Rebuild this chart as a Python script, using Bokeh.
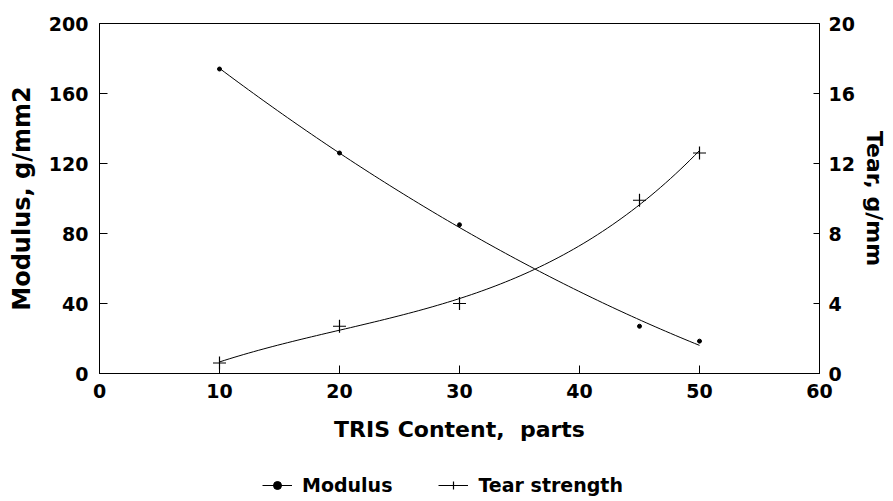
import numpy as np
from bokeh.plotting import figure
from bokeh.layouts import column
from bokeh.models import Range1d, LinearAxis, FixedTicker, Legend, LegendItem
from bokeh.embed import file_html
from bokeh.resources import INLINE

# data
tris = [10, 20, 30, 45, 50]
modulus = [174, 126, 85, 27, 18.5]
tear = [0.6, 2.7, 4.0, 9.9, 12.6]

x_ticks = [0, 10, 20, 30, 40, 50, 60]
left_ticks = [0, 40, 80, 120, 160, 200]
right_ticks = [0, 4, 8, 12, 16, 20]

FONT = "DejaVu Sans"

p = figure(frame_width=720, frame_height=350,
           x_range=Range1d(0, 60), y_range=Range1d(0, 200),
           output_backend="svg", toolbar_location=None,
           min_border_left=99, min_border_right=74, min_border_top=23,
           min_border_bottom=0)
p.extra_y_ranges = {"tear": Range1d(0, 20)}
p.grid.visible = False
p.outline_line_color = "black"
p.outline_line_width = 1
p.background_fill_color = "white"
p.border_fill_color = "white"

def style_axis(ax, ticks):
    ax.ticker = FixedTicker(ticks=ticks)
    ax.axis_line_color = "black"
    ax.axis_line_width = 1
    ax.major_tick_in = 8
    ax.major_tick_out = 0
    ax.minor_tick_line_color = None
    ax.major_tick_line_color = "black"
    ax.major_label_text_font = FONT
    ax.major_label_text_font_style = "bold"
    ax.major_label_text_font_size = "19px"
    ax.major_label_text_color = "black"
    ax.axis_label_text_font = FONT
    ax.axis_label_text_font_style = "bold"
    ax.axis_label_text_font_size = "22px"
    ax.axis_label_text_color = "black"

xa = p.xaxis[0]
style_axis(xa, x_ticks)
xa.axis_label = "TRIS Content,\u00a0 parts"
xa.major_label_standoff = 10
xa.axis_label_standoff = 16

ya = p.yaxis[0]
style_axis(ya, left_ticks)
ya.axis_label = "Modulus, g/mm2"
ya.axis_label_text_font_size = "24px"
ya.major_label_standoff = 11
ya.axis_label_standoff = 10

ra = LinearAxis(y_range_name="tear")
style_axis(ra, right_ticks)
ra.axis_label = "Tear, g/mm"
ra.major_tick_in = 6
ra.major_label_standoff = 9
ra.axis_label_standoff = 4
p.add_layout(ra, "right")

# smooth fitted curves derived from the data
xs = np.linspace(min(tris), max(tris), 100)
mod_fit = np.polyval(np.polyfit(tris, modulus, 2), xs)
tear_fit = np.polyval(np.polyfit(tris, tear, 3), xs)

p.line(xs, mod_fit, line_color="black", line_width=1)
p.scatter(tris, modulus, marker="circle", size=4, color="black")
p.line(xs, tear_fit, line_color="black", line_width=1, y_range_name="tear")
p.scatter(tris, tear, marker="cross", size=13, line_color="black",
          line_width=1.2, y_range_name="tear")

# legend strip below the chart; its series sit outside its visible range,
# so only the legend entries (same styles as the series) are seen
q = figure(width=893, height=70, x_range=Range1d(1000, 1001),
           y_range=Range1d(1000, 1001),
           output_backend="svg", toolbar_location=None, min_border=0)
q.axis.visible = False
q.grid.visible = False
q.outline_line_color = None
q.background_fill_color = "white"
q.border_fill_color = "white"
ql1 = q.line(tris, modulus, line_color="black", line_width=1)
qm1 = q.scatter(tris, modulus, marker="circle", size=4, color="black")
ql2 = q.line(tris, tear, line_color="black", line_width=1)
qm2 = q.scatter(tris, tear, marker="cross", size=13, line_color="black",
                line_width=1.2)

legend = Legend(items=[LegendItem(label="Modulus", renderers=[ql1, qm1]),
                       LegendItem(label="Tear strength", renderers=[ql2, qm2])],
                orientation="horizontal", location=(163, 18),
                border_line_color=None, background_fill_alpha=0,
                label_text_font=FONT, label_text_font_style="bold",
                label_text_font_size="19px", label_text_color="black",
                glyph_width=30, spacing=46, margin=0, padding=0,
                label_standoff=10)
q.add_layout(legend, "center")

layout = column(p, q, spacing=0)
open("out.html", "w").write(file_html(layout, INLINE))
